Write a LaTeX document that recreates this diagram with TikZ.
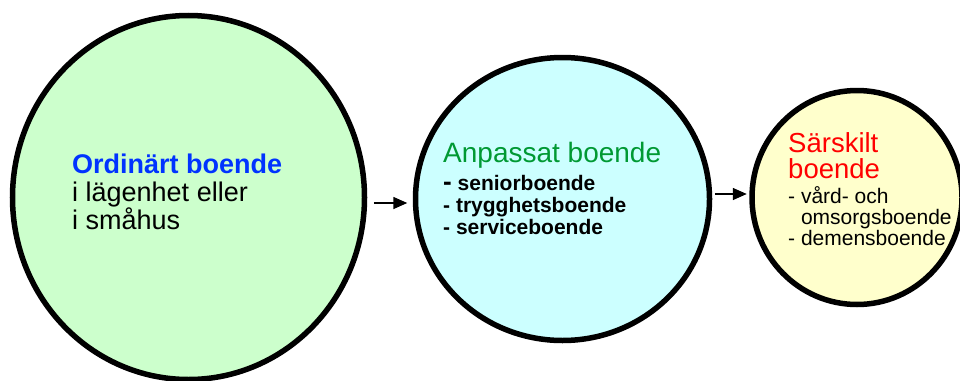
\documentclass[tikz,border=0pt]{standalone}
\usepackage{fontspec}
\setmainfont{Liberation Sans}
\usepackage{xcolor}
\usetikzlibrary{shapes.geometric,arrows.meta}
\definecolor{ordfill}{HTML}{CCFFCC}
\definecolor{anpfill}{HTML}{CCFFFF}
\definecolor{sarfill}{HTML}{FFFFCC}
\definecolor{ordblue}{HTML}{0033FF}
\definecolor{anpgreen}{HTML}{009933}
\definecolor{sarred}{HTML}{FF0000}
\tikzset{
bubble/.style={
  ellipse,
  draw=black,
  line width=5.5pt,
  inner sep=0pt
},
txt/.style={anchor=base west,inner sep=0pt,align=left},
bigtxt/.style={txt,font=\fontsize{27}{28}\selectfont},
smalltxt/.style={txt,font=\fontsize{21}{22}\selectfont},
arr/.style={-{Triangle[length=14pt,width=12pt]},line width=1.6pt},
}

\begin{document}
\begin{tikzpicture}[x=1pt,y=-1pt]
\useasboundingbox (0,0) rectangle (960,380);
% the bubbles
\node (ord) [bubble,fill=ordfill,minimum width=352pt,minimum height=364pt] at (188.5,197.5) {};
\node (anp) [bubble,fill=anpfill,minimum width=294pt,minimum height=283pt] at (562.5,199) {};
\node (sar) [bubble,fill=sarfill,minimum width=210pt,minimum height=214pt] at (857,197.5) {};
% the texts (base = last line)
\node (ordtext) [bigtxt] at (72,229)
  {{\bfseries\color{ordblue}Ordinärt boende}\\i lägenhet eller\\i småhus};
\node (anptitle) [bigtxt,font=\fontsize{28}{28}\selectfont,text=anpgreen] at (443,162) {Anpassat boende};
\node (anplist) [smalltxt,font=\fontsize{21}{22}\selectfont\bfseries] at (443,234)
  {{\fontsize{26}{22}\selectfont-} seniorboende\\- trygghetsboende\\- serviceboende};
\node (sartitle) [bigtxt,font=\fontsize{27.5}{26}\selectfont,text=sarred] at (788,178) {Särskilt\\boende};
\node (sarlist) [smalltxt,font=\fontsize{21}{21}\selectfont] at (788,245)
  {- vård- och\\\phantom{- }omsorgsboende\\- demensboende};
% the arrows
\coordinate (a1) at ([yshift=-5.5pt]ord.east);
\coordinate (a2) at ([yshift=5pt]anp.east);
\draw[arr,shorten <=6.5pt,shorten >=5.5pt] (a1) -- (a1 -| anp.west);
\draw[arr,shorten <=2.5pt,shorten >=2.5pt] (a2) -- (a2 -| sar.west);
\end{tikzpicture}
\end{document}
